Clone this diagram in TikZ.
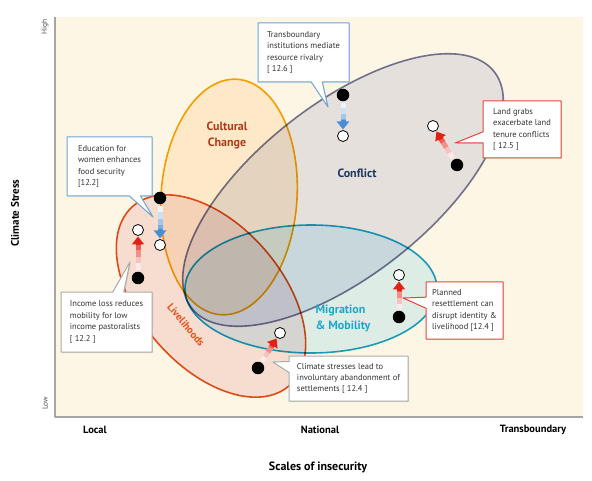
\documentclass[tikz,border=0pt]{standalone}
\usepackage{fontspec}
\setmainfont{PT Sans}
\usetikzlibrary{arrows.meta,calc,shapes.callouts,shadows}
\definecolor{cream}{RGB}{254,246,229}
\definecolor{axisgray}{RGB}{165,165,165}
\definecolor{livline}{RGB}{226,84,28}
\definecolor{livfill}{RGB}{247,230,232}
\definecolor{culline}{RGB}{246,168,0}
\definecolor{culfill}{RGB}{254,242,222}
\definecolor{conline}{RGB}{122,122,156}
\definecolor{confill}{RGB}{230,233,246}
\definecolor{migline}{RGB}{28,166,206}
\definecolor{migfill}{RGB}{222,245,255}
\definecolor{cultext}{RGB}{176,58,28}
\definecolor{context}{RGB}{30,56,96}
\definecolor{boxblue}{RGB}{110,165,215}
\definecolor{boxred}{RGB}{226,72,60}
\definecolor{boxgray}{RGB}{170,170,170}
\definecolor{arrred}{RGB}{226,32,20}
\definecolor{arrblue}{RGB}{72,142,212}
\newcommand\fadearrow[3]{%
  \coordinate (fa-s) at ($(#1)!8pt!(#2)$);
  \coordinate (fa-h) at ($(#2)!6.5pt!(#1)$);
  \foreach \f/\m in {0/10,0.2/28,0.4/50,0.6/72,0.8/92}{%
    \draw[#3!\m!white,line width=5pt,line cap=butt] ($(fa-s)!\f!(fa-h)$) -- ($(fa-h)!6pt!(fa-s)$);}
  \draw[#3,line width=5pt,line cap=butt,-{Triangle[length=8pt,width=12pt]}] ($(fa-h)!9pt!(fa-s)$) -- (fa-h);
}

\begin{document}
\begin{tikzpicture}[line cap=round,line join=round,x=1pt,y=1pt,
  zone/.style={line width=1.6pt,blend mode=multiply},
  blackdot/.style={circle,fill=black,inner sep=0pt,minimum size=12.5pt},
  whitedot/.style={circle,draw=black,line width=0.8pt,fill=white,inner sep=0pt,minimum size=11pt},
  note/.style={rectangle callout,fill=white,line width=1pt,callout pointer width=11pt,
    drop shadow={opacity=0.2,shadow xshift=1pt,shadow yshift=-1pt},
    font=\fontsize{8.5}{11.4}\selectfont,text=black!80,align=left},
  scalelabel/.style={font=\bfseries\fontsize{10.5}{12}\selectfont},
  zonelabel/.style={font=\bfseries\fontsize{12}{16}\selectfont}]
\useasboundingbox (0,0) rectangle (592,480);
\fill[cream] (55,63) rectangle (583,463);
\draw[axisgray,line width=1.2pt,line cap=butt] (55,463) -- (55,63) -- (583,63);

\draw[zone,livline,fill=livfill,rotate around={-49:(211,184)}] (211,184) ellipse [x radius=119,y radius=71];
\draw[zone,culline,fill=culfill,rotate around={-4:(229,283)}] (229,283) ellipse [x radius=68,y radius=118];
\draw[zone,conline,fill=confill,rotate around={38:(343,290)}] (343,290) ellipse [x radius=192,y radius=86];
\draw[zone,migline,fill=migfill] (311,191) ellipse [x radius=126,y radius=64];

\node[zonelabel,text=cultext,align=center] (cultural) at (227,345) {Cultural\\Change};
\node[zonelabel,text=context] (conflict) at (357,307) {Conflict};
\node[zonelabel,text=migline,align=left] (migration) at (343,162) {Migration\\\& Mobility};
\node[text=livline,rotate=-50,font=\bfseries\fontsize{10.5}{12}\selectfont] (livelihoods) at (186,155) {Livelihoods};

\node[blackdot] (tb) at (343,385) {};
\node[whitedot] (tw) at (343,344) {};
\node[blackdot] (lb) at (457,315) {};
\node[whitedot] (lw) at (433,354) {};
\node[blackdot] (eb) at (160,282) {};
\node[whitedot] (ew) at (160,235) {};
\node[blackdot] (ib) at (138,202) {};
\node[whitedot] (iw) at (138,250) {};
\node[blackdot] (cb) at (258,112) {};
\node[whitedot] (cw) at (280,147) {};
\node[blackdot] (pb) at (399,163) {};
\node[whitedot] (pw) at (399,205) {};

\fadearrow{tb}{tw}{arrblue}
\fadearrow{eb}{ew}{arrblue}
\fadearrow{lb}{lw}{arrred}
\fadearrow{ib}{iw}{arrred}
\fadearrow{cb}{cw}{arrred}
\fadearrow{pb}{pw}{arrred}

\node[note,draw=boxblue,minimum width=91,minimum height=59,callout absolute pointer={(328,373)}] (tbnote) at (303.5,427.5)
  {Transboundary\\institutions mediate\\resource rivalry\\{[} 12.6 ]};
\node[note,draw=boxblue,minimum width=85,minimum height=59,callout absolute pointer={(153,263)}] (ednote) at (109.5,313.5)
  {Education for\\women enhances\\food security\\{[}12.2]};
\node[note,draw=boxgray,minimum width=91,minimum height=60,callout absolute pointer={(130,218)}] (innote) at (106.5,158)
  {Income loss reduces\\mobility for low\\income pastoralists\\{[} 12.2 ]};
\node[note,draw=boxred,minimum width=78,minimum height=57,callout absolute pointer={(455,337)}] (lgnote) at (522,350.5)
  {Land grabs\\exacerbate land\\tenure conflicts\\{[} 12.5 ]};
\node[note,draw=boxred,minimum width=77,minimum height=57,callout absolute pointer={(403,182)}] (plnote) at (464.5,169.5)
  {Planned\\resettlement can\\disrupt identity \&\\livelihood [12.4 ]};
\node[note,draw=boxgray,minimum width=119,minimum height=45,callout absolute pointer={(273,118)}] (clnote) at (348.5,101.5)
  {Climate stresses lead to\\involuntary abandonment of\\settlements [ 12.4 ]};

\node[rotate=90,text=black!70,font=\fontsize{7.5}{9}\selectfont] (high) at (45,453) {High};
\node[rotate=90,text=black!70,font=\fontsize{7.5}{9}\selectfont] (low) at (45,77) {Low};
\node[rotate=90,font=\bfseries\fontsize{11}{13}\selectfont] (stress) at (15,267) {Climate Stress};
\node[scalelabel] (local) at (95,50) {Local};
\node[scalelabel] (national) at (320,50) {National};
\node[scalelabel] (transb) at (533,50) {Transboundary};
\node[font=\bfseries\fontsize{12}{14}\selectfont] (scales) at (318,13) {Scales of insecurity};
\end{tikzpicture}
\end{document}
